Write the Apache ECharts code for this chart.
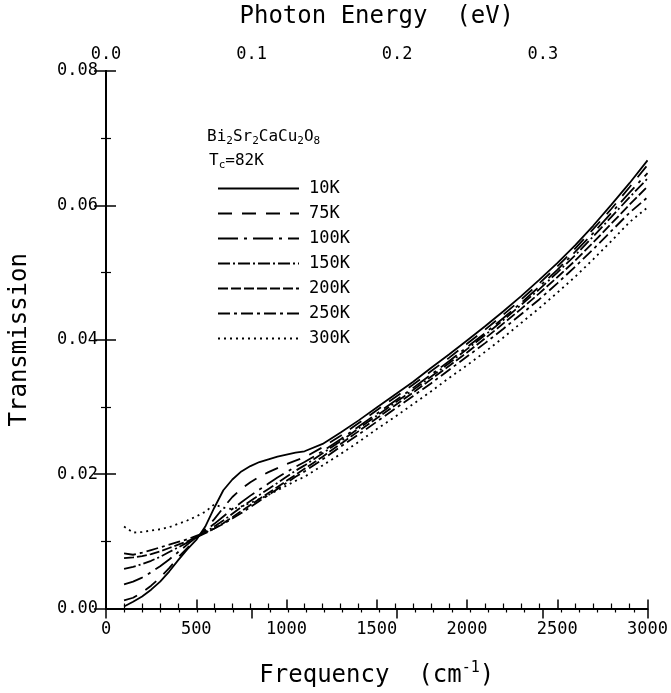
<!DOCTYPE html>
<html>
<head>
<meta charset="utf-8">
<script src="https://cdn.jsdelivr.net/npm/echarts@6/dist/echarts.min.js"></script>
<style>
  html, body { margin: 0; padding: 0; background: #fff; }
  #chart { width: 671px; height: 693px; }
</style>
</head>
<body>
<div id="chart"></div>
<script>
// frequency grid (cm^-1)
var freq = [100, 150, 200, 250, 300, 350, 400, 450, 500, 550, 600, 650, 700, 750, 800, 850, 900, 950, 1000, 1050,
  1100, 1200, 1300, 1400, 1500, 1600, 1700, 1800, 1900, 2000, 2100, 2200, 2300, 2400, 2500, 2600, 2700, 2800, 2900, 3000];

var t10K = [.0003, .0010, .0018, .0028, .0040, .0055, .0072, .0088, .0102, .0122, .0150, .0176, .0192, .0204, .0212, .0218, .0222, .0226, .0229, .0232,
  .0234, .0245, .0262, .0280, .0299, .0318, .0337, .0358, .0378, .0399, .0420, .0442, .0465, .0489, .0514, .0541, .0570, .0601, .0633, .0667];
var t75K = [.0012, .0016, .0024, .0034, .0046, .0060, .0076, .0090, .0104, .0118, .0133, .0150, .0166, .0178, .0188, .0196, .0203, .0209, .0215, .0220,
  .0225, .0240, .0257, .0276, .0295, .0314, .0333, .0353, .0373, .0394, .0415, .0437, .0460, .0484, .0509, .0536, .0565, .0595, .0627, .0660];
var t100K = [.0036, .0040, .0046, .0054, .0063, .0073, .0084, .0095, .0106, .0116, .0126, .0137, .0148, .0158, .0168, .0177, .0186, .0195, .0203, .0211,
  .0218, .0234, .0252, .0271, .0290, .0309, .0328, .0348, .0368, .0389, .0410, .0432, .0455, .0479, .0504, .0531, .0559, .0589, .0619, .0648];
var t150K = [.0059, .0062, .0066, .0071, .0077, .0084, .0091, .0098, .0106, .0114, .0122, .0131, .0141, .0151, .0160, .0169, .0178, .0187, .0196, .0205,
  .0213, .0231, .0249, .0268, .0287, .0306, .0325, .0345, .0365, .0386, .0407, .0429, .0452, .0475, .0500, .0526, .0554, .0583, .0612, .0640];
var t200K = [.0075, .0076, .0078, .0081, .0085, .0090, .0095, .0100, .0106, .0112, .0119, .0127, .0136, .0145, .0154, .0163, .0172, .0181, .0190, .0199,
  .0208, .0226, .0245, .0264, .0283, .0302, .0321, .0341, .0361, .0381, .0402, .0424, .0446, .0469, .0493, .0518, .0545, .0573, .0601, .0628];
var t250K = [.0082, .0080, .0083, .0087, .0091, .0095, .0099, .0103, .0108, .0113, .0119, .0126, .0134, .0142, .0151, .0160, .0169, .0178, .0187, .0196,
  .0204, .0222, .0241, .0259, .0278, .0297, .0316, .0335, .0355, .0375, .0395, .0416, .0438, .0460, .0484, .0509, .0535, .0562, .0589, .0612];
var t300K = [.0122, .0113, .0114, .0116, .0118, .0121, .0126, .0131, .0137, .0144, .0155, .0150, .0148, .0152, .0157, .0163, .0169, .0176, .0183, .0190,
  .0196, .0213, .0230, .0248, .0267, .0285, .0304, .0323, .0343, .0362, .0382, .0403, .0425, .0447, .0470, .0494, .0520, .0547, .0575, .0597];

var tempLabels = ['10K', '75K', '100K', '150K', '200K', '250K', '300K'];
var energyTicks = [0.0, 0.1, 0.2, 0.3];

var CM_PER_EV = 8065.54;
var mono = 'DejaVu Sans Mono';

var curves = [t10K, t75K, t100K, t150K, t200K, t250K, t300K];
var dashes = ['solid', [14, 10], [20, 6, 3, 6], [12, 3, 2, 3], [10, 3], [12, 4, 3, 4], [2, 4]];

var myChart = echarts.init(document.getElementById('chart'));

myChart.setOption({
  animation: false,
  backgroundColor: '#fff',
  title: [
    {
      left: 202, top: 122,
      text: '{n|Bi}{s|2}{n|Sr}{s|2}{n|CaCu}{s|2}{n|O}{s|8}',
      textStyle: {
        rich: {
          n: { fontFamily: mono, fontSize: 16, fontWeight: 'normal', color: '#000' },
          s: { fontFamily: mono, fontSize: 11, fontWeight: 'normal', color: '#000', padding: [9, 0, 0, 0] }
        }
      }
    },
    {
      left: 204, top: 146,
      text: '{n|T}{s|c}{n|=82K}',
      textStyle: {
        rich: {
          n: { fontFamily: mono, fontSize: 16, fontWeight: 'normal', color: '#000' },
          s: { fontFamily: mono, fontSize: 11, fontWeight: 'normal', color: '#000', padding: [9, 0, 0, 0] }
        }
      }
    }
  ],
  legend: {
    orient: 'vertical',
    left: 217,
    top: 180,
    padding: 0,
    itemWidth: 81,
    itemHeight: 14,
    itemGap: 8,
    data: tempLabels,
    itemStyle: { opacity: 0 },
    textStyle: { fontFamily: mono, fontSize: 17, color: '#000', lineHeight: 14, padding: [0, 0, 0, 5] }
  },
  grid: { left: 100, right: 20, top: 60, bottom: 82 },
  xAxis: [
    {
      type: 'value',
      position: 'bottom',
      min: 0, max: 3000, interval: 500,
      name: '{n|Frequency  (cm}{sup|-1}{n|)}',
      nameLocation: 'middle',
      nameGap: 52,
      nameTextStyle: {
        rich: {
          n: { fontFamily: mono, fontSize: 24, color: '#000' },
          sup: { fontFamily: mono, fontSize: 15, color: '#000', padding: [0, 0, 16, 0] }
        }
      },
      axisLine: { lineStyle: { color: '#000', width: 2 } },
      axisTick: { inside: true, length: 9, lineStyle: { color: '#000', width: 1.5 } },
      minorTick: { show: true, splitNumber: 5, length: 5, lineStyle: { color: '#000', width: 1.2 } },
      axisLabel: { fontFamily: mono, fontSize: 17, color: '#000', margin: 13, formatter: function (v) { return String(v); } },
      splitLine: { show: false }
    },
    {
      type: 'value',
      position: 'top',
      min: 0, max: 3000 / CM_PER_EV, interval: 0.1,
      name: 'Photon Energy  (eV)',
      nameLocation: 'middle',
      nameGap: 42,
      nameTextStyle: { fontFamily: mono, fontSize: 24, color: '#000' },
      axisLine: { lineStyle: { color: '#000', width: 2 } },
      axisTick: { inside: true, length: 10, lineStyle: { color: '#000', width: 1.5 } },
      minorTick: { show: true, splitNumber: 8, length: 4, lineStyle: { color: '#000', width: 1.2 } },
      axisLabel: {
        fontFamily: mono, fontSize: 17, color: '#000', margin: 8,
        showMaxLabel: false,
        formatter: function (v) { return energyTicks.indexOf(Math.round(v * 10) / 10) >= 0 ? v.toFixed(1) : ''; }
      },
      splitLine: { show: false }
    }
  ],
  yAxis: [
    {
      type: 'value',
      position: 'left',
      min: 0, max: 0.08, interval: 0.02,
      name: 'Transmission',
      nameLocation: 'middle',
      nameGap: 74,
      nameTextStyle: { fontFamily: mono, fontSize: 24, color: '#000' },
      axisLine: { show: true, lineStyle: { color: '#000', width: 2 } },
      axisTick: { show: true, inside: true, length: 10, lineStyle: { color: '#000', width: 1.5 } },
      minorTick: { show: true, splitNumber: 2, length: 5, lineStyle: { color: '#000', width: 1.2 } },
      axisLabel: { fontFamily: mono, fontSize: 17, color: '#000', margin: 8, formatter: function (v) { return v.toFixed(2); } },
      splitLine: { show: false }
    },
    {
      type: 'value',
      position: 'right',
      min: 0, max: 0.08, interval: 0.02,
      axisLine: { show: true, lineStyle: { color: '#000', width: 2 } },
      axisTick: { show: true, inside: true, length: 12, lineStyle: { color: '#000', width: 1.5 } },
      minorTick: { show: true, splitNumber: 2, length: 5, lineStyle: { color: '#000', width: 1.2 } },
      axisLabel: { show: false },
      splitLine: { show: false }
    }
  ],
  series: curves.map(function (vals, k) {
    return {
      name: tempLabels[k],
      type: 'line',
      xAxisIndex: 0,
      yAxisIndex: 0,
      symbol: 'none',
      showSymbol: false,
      lineStyle: { color: '#000', width: 1.8, type: dashes[k] },
      itemStyle: { color: '#000' },
      data: freq.map(function (f, i) { return [f, vals[i]]; })
    };
  })
});
</script>
</body>
</html>
